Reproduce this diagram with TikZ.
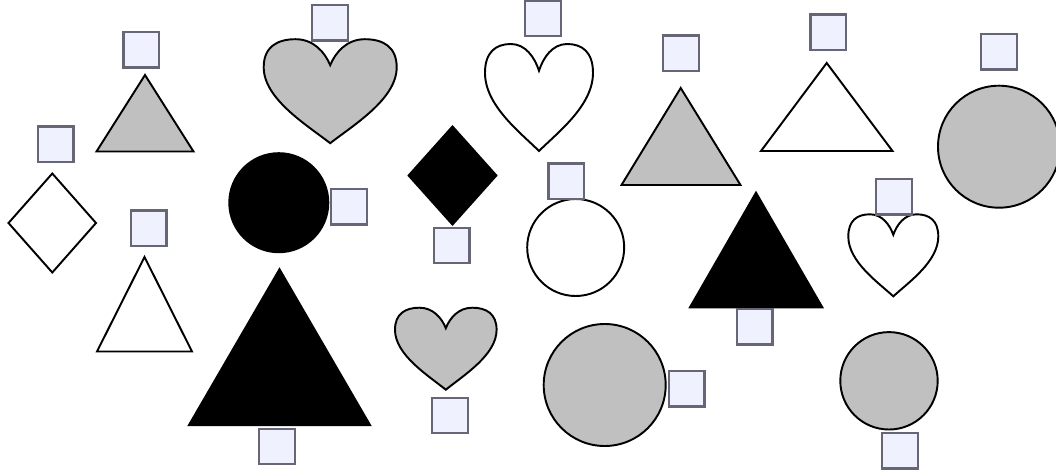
\documentclass[tikz,border=0pt]{standalone}
\usepackage{tikz}

\definecolor{boxfill}{HTML}{EFF2FE}
\definecolor{boxline}{HTML}{666676}
\definecolor{shapegray}{HTML}{C0C0C0}

\tikzset{
  box/.style={draw=boxline, fill=boxfill, line width=1.4pt, minimum size=0.71cm, inner sep=0pt, outer sep=0pt},
  outl/.style={draw=black, line width=1.1pt},
}

% heart in a unit box, tip at (0,1), notch at (0,-0.5)
\newcommand{\heart}[5]{%
  \begin{scope}[shift={(#1,#2)}, xscale=#3, yscale=#4]
    \draw[outl, fill=#5] (0,1) .. controls (-0.35,0.65) and (-1,0.15) .. (-1,-0.46)
      .. controls (-1,-0.85) and (-0.8,-1) .. (-0.52,-1)
      .. controls (-0.25,-1) and (-0.08,-0.75) .. (0,-0.5)
      .. controls (0.08,-0.75) and (0.25,-1) .. (0.52,-1)
      .. controls (0.8,-1) and (1,-0.85) .. (1,-0.46)
      .. controls (1,0.15) and (0.35,0.65) .. (0,1) -- cycle;
  \end{scope}}

\begin{document}
\begin{tikzpicture}[x=0.02cm, y=-0.02cm]
\useasboundingbox (0,0) rectangle (1056,474);

% triangles
\draw[outl, fill=shapegray] (145,75) -- (193.5,151.5) -- (96.5,151.5) -- cycle;
\draw[outl, fill=white] (144.5,257) -- (192,351.5) -- (97,351.5) -- cycle;
\fill[black] (279.5,267.3) -- (371.7,426) -- (187.3,426) -- cycle;
\draw[outl, fill=shapegray] (680.7,88) -- (740.5,185) -- (621.5,185) -- cycle;
\fill[black] (756,190.7) -- (824,308.3) -- (688.3,308.3) -- cycle;
\draw[outl, fill=white] (826.7,63) -- (892.5,151) -- (761,151) -- cycle;

% circles
\fill[black] (278.8,202.7) circle[radius=50.5];
\draw[outl, fill=white] (575.7,247.5) circle[radius=48.5];
\draw[outl, fill=shapegray] (604.7,385) circle[radius=61];
\draw[outl, fill=shapegray] (889,380.8) circle[radius=48.7];
\draw[outl, fill=shapegray] (999,146.7) circle[radius=61];

% diamonds
\draw[outl, fill=white] (52.3,173.5) -- (96,223) -- (52.3,272.5) -- (8.5,223) -- cycle;
\fill[black] (452.5,125) -- (497.7,175.5) -- (452.5,226) -- (407.3,175.5) -- cycle;

% hearts
\heart{330.2}{91.2}{66.5}{52}{shapegray}
\heart{539}{97.5}{54}{53.5}{white}
\heart{445.8}{348.7}{50.8}{41}{shapegray}
\heart{893.3}{255.3}{45}{41}{white}

% boxes
\node[box] (sqdiamond) at (55.8,144.2) {};
\node[box] (sqtriA) at (141.3,49.8) {};
\node[box] (sqtriB) at (148.8,228.3) {};
\node[box] (sqdot) at (349,206.8) {};
\node[box] (sqtriC) at (277,446.5) {};
\node[box] (sqheartA) at (330,22.8) {};
\node[box] (sqrhomb) at (451.7,245.5) {};
\node[box] (sqheartB) at (450,415.5) {};
\node[box] (sqheartC) at (543,18.5) {};
\node[box] (sqring) at (566.3,181.3) {};
\node[box] (sqdiscA) at (686.7,388.8) {};
\node[box] (sqtriD) at (681,53.3) {};
\node[box] (sqtriE) at (754.7,326.7) {};
\node[box] (sqtriF) at (828.3,32.2) {};
\node[box] (sqheartD) at (894,196.7) {};
\node[box] (sqdiscB) at (999,51.7) {};
\node[box] (sqdiscC) at (900,450.7) {};

\end{tikzpicture}
\end{document}
